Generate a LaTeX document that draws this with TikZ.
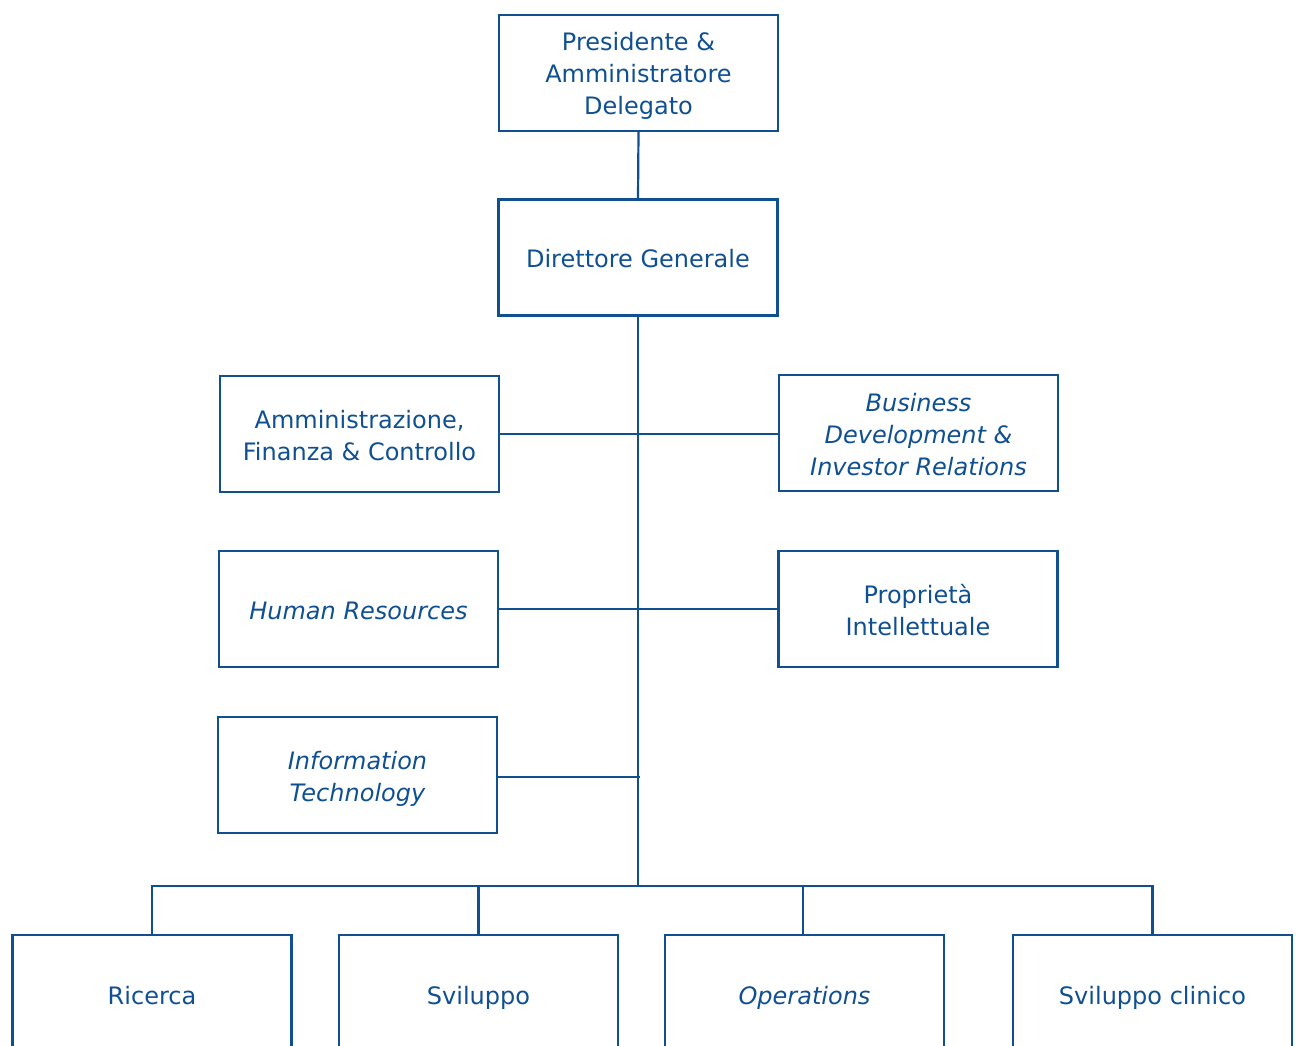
\documentclass[tikz,border=0pt]{standalone}
\usepackage{fontspec}
\setmainfont{DejaVu Sans}
\definecolor{orgblue}{RGB}{16,80,145}
\newcommand\mystrut{\rule[-6pt]{0pt}{32pt}}
\begin{document}
\begin{tikzpicture}[x=1pt,y=-1pt,
  box/.style={draw=orgblue,line width=2.2pt,minimum width=279pt,minimum height=116pt,inner sep=0pt,align=center,text=orgblue,font=\fontsize{24}{32}\selectfont},
  ibox/.style={box,font=\fontsize{24}{32}\selectfont\itshape},
  conn/.style={draw=orgblue,line width=2.2pt}]
\useasboundingbox (0,0) rectangle (1296,1046);
\clip (0,0) rectangle (1296,1046);
\node[box] (pres) at (638.5,73) {\mystrut Presidente \&\\\mystrut Amministratore\\\mystrut Delegato};
\node[box] (dg) at (638,257.5) {\mystrut Direttore Generale};
\node[box] (afc) at (359.5,434) {\mystrut Amministrazione,\\\mystrut Finanza \& Controllo};
\node[ibox] (bd) at (918.5,433) {\mystrut Business\\\mystrut Development \&\\\mystrut Investor Relations};
\node[ibox] (hr) at (358.5,609) {\mystrut Human Resources};
\node[box] (pi) at (918,609) {\mystrut Proprietà\\\mystrut Intellettuale};
\node[ibox] (it) at (357.5,775) {\mystrut Information\\\mystrut Technology};
\node[box,minimum height=118pt] (ric) at (152,994) {\mystrut Ricerca};
\node[box,minimum height=118pt] (svi) at (478.5,994) {\mystrut Sviluppo};
\node[ibox,minimum height=118pt] (ops) at (804.5,994) {\mystrut Operations};
\node[box,minimum height=118pt] (svc) at (1152.5,994) {\mystrut Sviluppo clinico};
\coordinate (bus) at (638,886);
\coordinate (itj) at (640,777);
\draw[conn] (pres.south) -- (dg.north);
\draw[conn] (dg.south) -- (bus);
\draw[conn] (afc.east) -- (afc.east -| bd.west);
\draw[conn] (hr.east) -- (hr.east -| pi.west);
\draw[conn] (it.east |- itj) -- (itj);
\draw[conn] (ric.north) |- (bus) -| (svc.north);
\draw[conn] (svi.north) -- (svi.north |- bus);
\draw[conn] (803,935) -- (803,886);
\end{tikzpicture}
\end{document}
